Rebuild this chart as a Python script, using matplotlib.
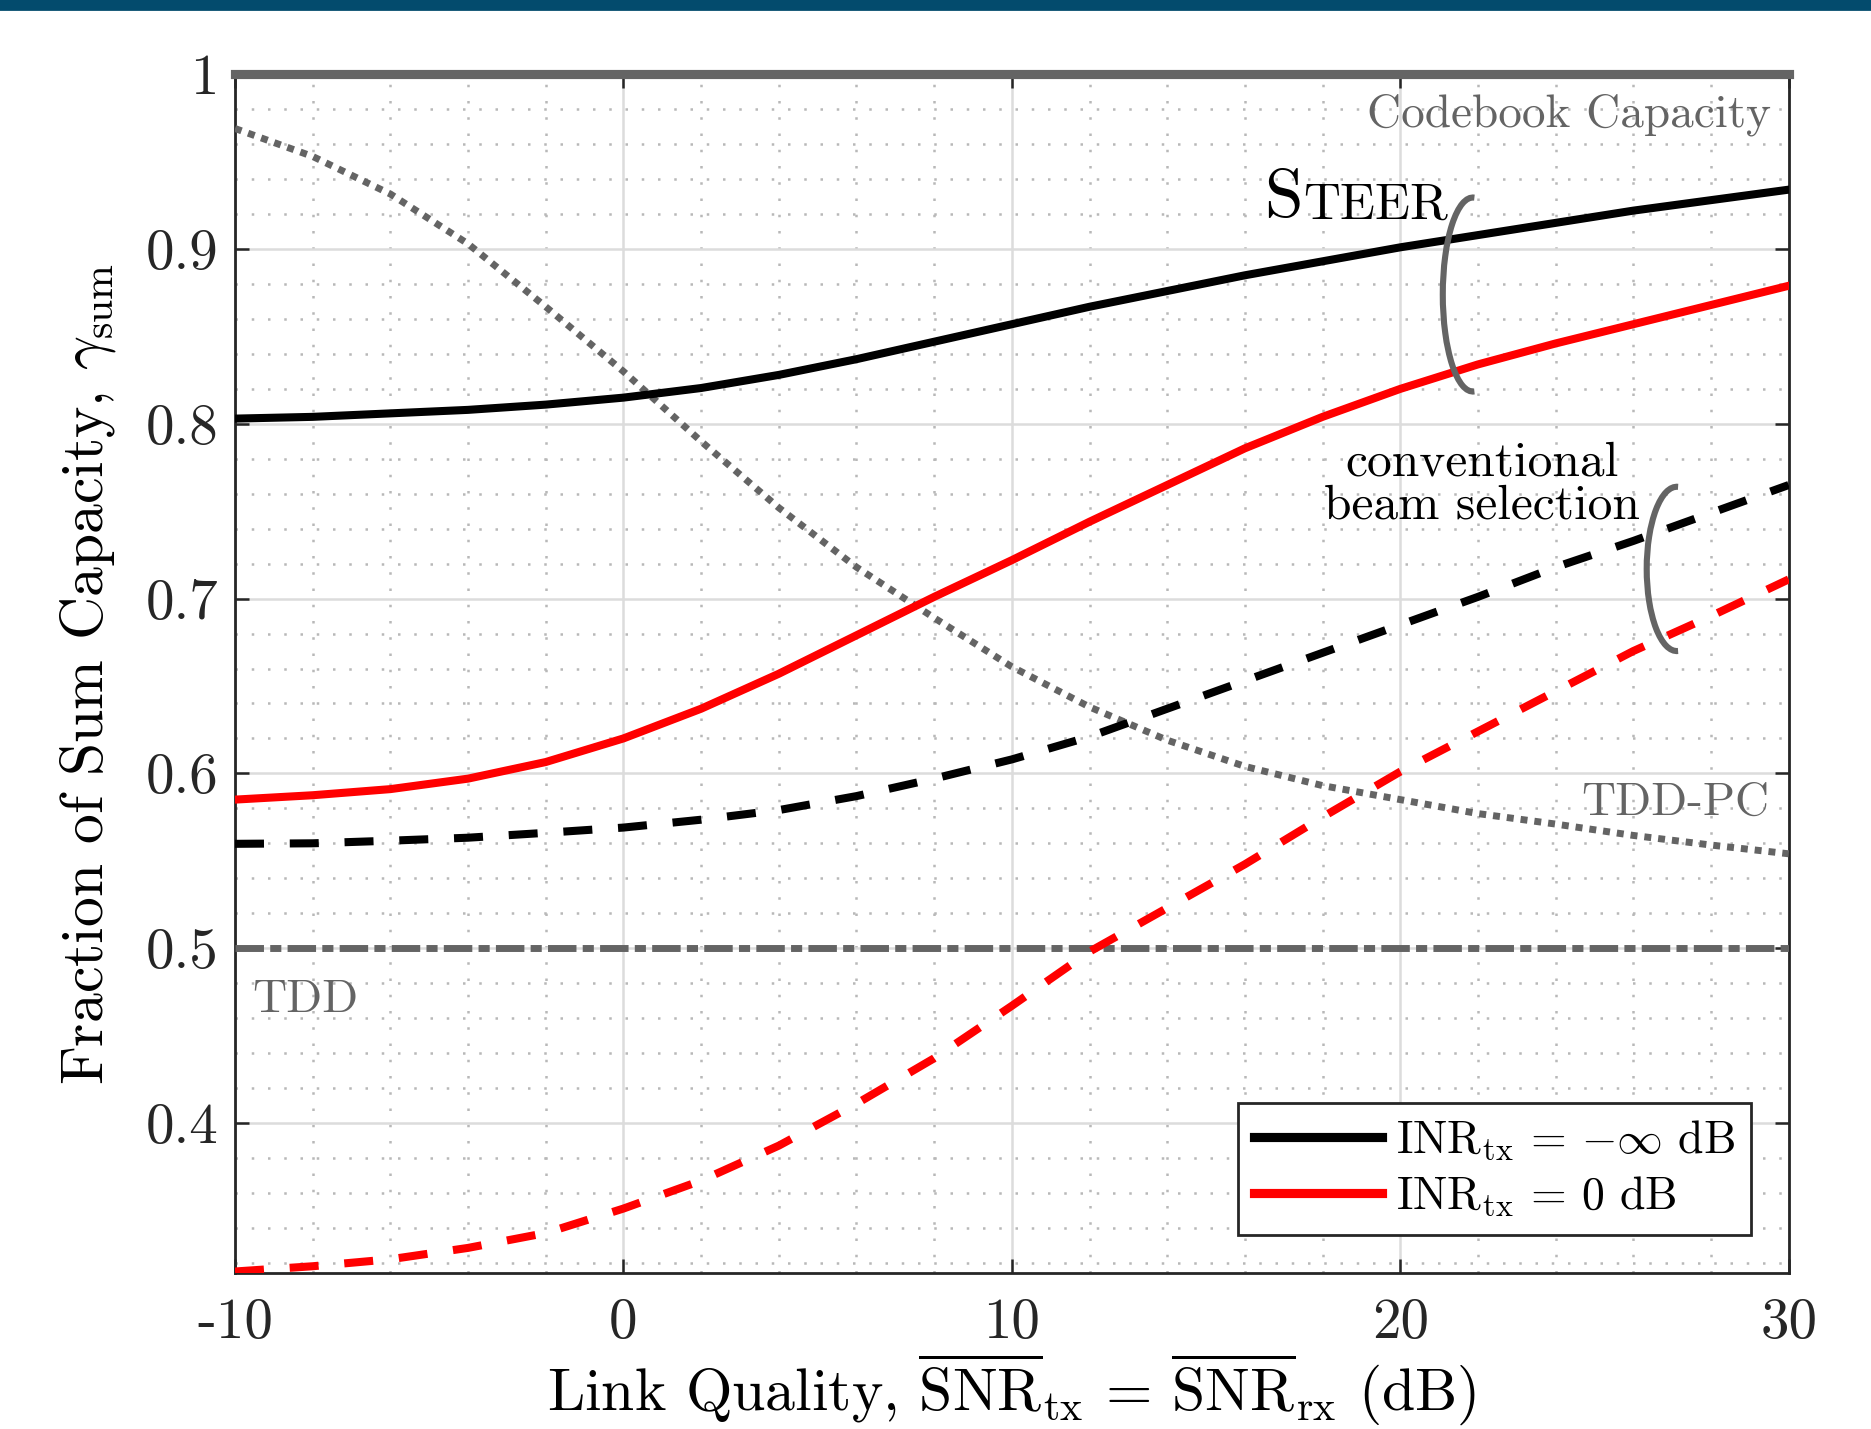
import matplotlib
matplotlib.use('Agg')
import matplotlib.pyplot as plt
from matplotlib.patches import Arc, Rectangle
import numpy as np

# link quality (dB)
snr = [-10, -8, -6, -4, -2, 0, 2, 4, 6, 8, 10, 12, 14, 16, 18, 20, 22, 24, 26, 28, 30]

# STEER
steer_inf = [0.803, 0.804, 0.806, 0.808, 0.811, 0.815, 0.8205, 0.828, 0.837, 0.847, 0.857,
             0.867, 0.876, 0.885, 0.893, 0.901, 0.908, 0.915, 0.922, 0.928, 0.934]
steer_0db = [0.585, 0.5875, 0.591, 0.597, 0.6065, 0.620, 0.637, 0.657, 0.679, 0.701, 0.722,
             0.744, 0.765, 0.786, 0.804, 0.820, 0.834, 0.846, 0.857, 0.868, 0.879]
# conventional beam selection
conv_inf = [0.5597, 0.560, 0.5615, 0.5632, 0.566, 0.569, 0.5735, 0.579, 0.587, 0.597, 0.608,
            0.621, 0.637, 0.653, 0.669, 0.685, 0.701, 0.718, 0.733, 0.749, 0.765]
conv_0db = [0.315, 0.318, 0.322, 0.3285, 0.337, 0.351, 0.367, 0.387, 0.411, 0.437, 0.467,
            0.498, 0.523, 0.548, 0.575, 0.601, 0.624, 0.647, 0.670, 0.690, 0.711]
# TDD with power control
tdd_pc = [0.969, 0.953, 0.9315, 0.903, 0.867, 0.830, 0.790, 0.752, 0.718, 0.689, 0.661,
          0.638, 0.619, 0.604, 0.593, 0.585, 0.577, 0.571, 0.5645, 0.559, 0.554]

codebook_cap = 1.0
tdd = 0.5

x_ticks = [-10, 0, 10, 20, 30]
x_ticklabels = ['-10', '0', '10', '20', '30']
y_ticks = [0.4, 0.5, 0.6, 0.7, 0.8, 0.9, 1.0]
y_ticklabels = ['0.4', '0.5', '0.6', '0.7', '0.8', '0.9', '1']

plt.rcParams['font.family'] = 'serif'
plt.rcParams['font.serif'] = ['cmr10']
plt.rcParams['mathtext.fontset'] = 'cm'
plt.rcParams['axes.formatter.use_mathtext'] = True

gray = '#646464'
fig = plt.figure(figsize=(9.355, 7.145), dpi=200)
ax = fig.add_axes([0.1256, 0.109, 0.8304, 0.839])

# top banner
fig.patches.append(Rectangle((0, 1 - 9 / 1429), 1, 9 / 1429, transform=fig.transFigure,
                             color='#034b6d', zorder=10))

# grid
ax.set_axisbelow(True)
ax.grid(True, which='major', color='#dcdcdc', linewidth=0.9, linestyle='-')
ax.set_xticks(np.arange(-10, 31, 2), minor=True)
ax.set_yticks(np.arange(0.32, 1.0, 0.02), minor=True)
ax.grid(True, which='minor', color='#b8b8b8', linewidth=0.9, linestyle=(0, (1, 5.5)))
ax.tick_params(which='minor', length=0)

lw = 2.9
ax.axhline(codebook_cap, color=gray, lw=3.3, zorder=3, clip_on=False)
ax.axhline(tdd, color=gray, lw=2.5, linestyle=(0, (4.1, 0.9, 1.6, 0.9)), zorder=3)
ax.plot(snr, tdd_pc, color=gray, lw=2.5, linestyle=(0, (1, 1)), zorder=3)
ax.plot(snr, conv_inf, color='black', lw=lw, linestyle=(0, (3.6, 3.2)), zorder=4)
ax.plot(snr, conv_0db, color='red', lw=lw, linestyle=(0, (3.6, 3.2)), zorder=4)
ax.plot(snr, steer_inf, color='black', lw=lw, zorder=5, label=r'INR$_{\mathrm{tx}}$ = $-\infty$ dB')
ax.plot(snr, steer_0db, color='red', lw=lw, zorder=5, label=r'INR$_{\mathrm{tx}}$ = 0 dB')

# grouping arcs
ax.add_patch(Arc((21.87, 0.874), 1.55, 0.111, theta1=55, theta2=305, color=gray, lw=2.2, zorder=6))
ax.add_patch(Arc((27.12, 0.717), 1.55, 0.094, theta1=55, theta2=305, color=gray, lw=2.2, zorder=6))

# annotations
ax.text(29.55, 0.977, 'Codebook Capacity', color=gray, fontsize=17, ha='right', va='center')
ax.text(29.5, 0.583, 'TDD-PC', color=gray, fontsize=17, ha='right', va='center')
ax.text(-9.55, 0.470, 'TDD', color=gray, fontsize=17, ha='left', va='center')
t_s = ax.text(16.5, 0.919, 'S', fontsize=25, ha='left', va='baseline')
ax.annotate('TEER', xy=(1, 0), xycoords=t_s, fontsize=18.5, ha='left', va='bottom')
ax.text(22.1, 0.765, 'conventional\nbeam selection', fontsize=17.8, ha='center', va='center',
        linespacing=0.95)

ax.set_xlim(-10, 30)
ax.set_ylim(0.314, 1.0)
ax.set_xticks(x_ticks)
ax.set_xticklabels(x_ticklabels)
ax.set_yticks(y_ticks)
ax.set_yticklabels(y_ticklabels)
ax.tick_params(which='major', direction='in', length=5, width=0.9, top=True, right=True,
               labelsize=20.5, colors='#262626')
ax.tick_params(axis='x', pad=9)
ax.tick_params(axis='y', pad=6)
for s in ax.spines.values():
    s.set_linewidth(1.0)
    s.set_color('#262626')

ax.set_xlabel(r'Link Quality, $\overline{\mathrm{SNR}}_{\mathrm{tx}}$ = $\overline{\mathrm{SNR}}_{\mathrm{rx}}$ (dB)',
              fontsize=21.5, labelpad=1)
ax.set_ylabel(r'Fraction of Sum Capacity, $\gamma_{\mathrm{sum}}$', fontsize=21.5, labelpad=10)

leg = ax.legend(loc='lower right', bbox_to_anchor=(0.976, 0.032), borderaxespad=0,
                fontsize=16.5, fancybox=False, framealpha=1, edgecolor='#262626',
                handlelength=2.8, handletextpad=0.3, borderpad=0.35, labelspacing=0.25)
leg.get_frame().set_linewidth(1.0)
for h in leg.get_lines():
    h.set_linewidth(3.3)

fig.savefig('out.png', dpi=200)
